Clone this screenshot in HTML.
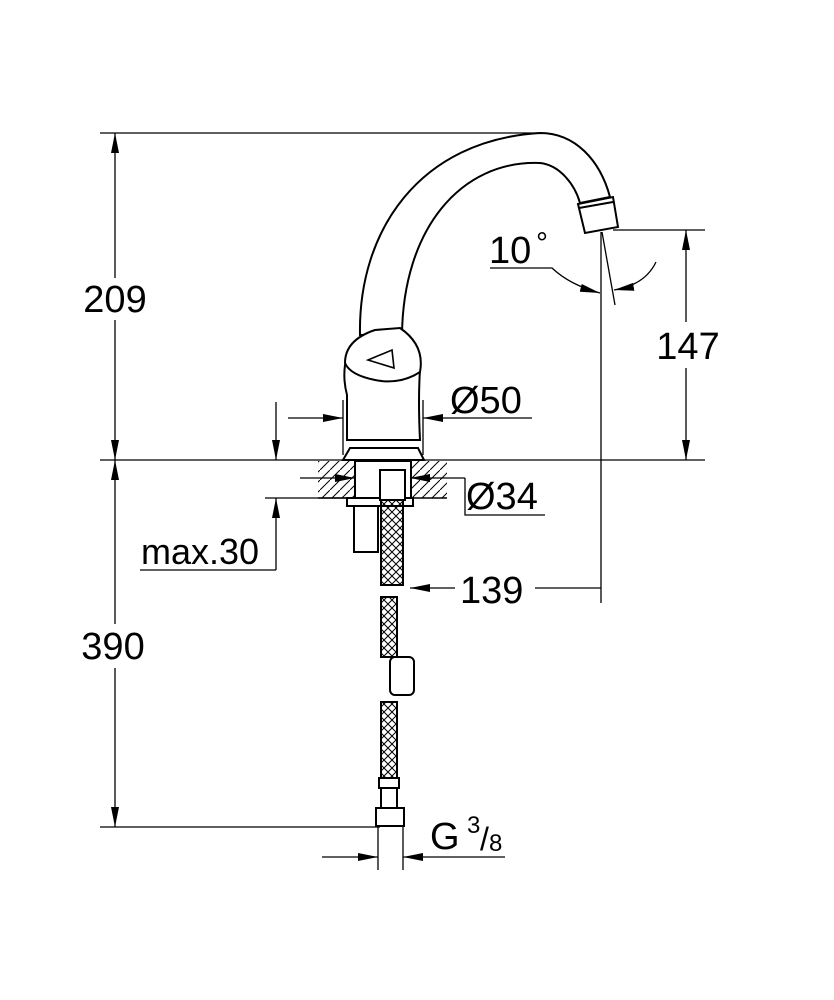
<!DOCTYPE html>
<html><head><meta charset="utf-8"><style>
html,body{margin:0;padding:0;background:#fff}
svg{display:block}
text{font-family:"Liberation Sans",sans-serif;fill:#000}
</style></head><body>
<svg width="834" height="1000" viewBox="0 0 834 1000" xmlns="http://www.w3.org/2000/svg">
<defs>
<marker id="a" viewBox="0 0 20 8" refX="20" refY="4" markerWidth="20" markerHeight="8" markerUnits="userSpaceOnUse" orient="auto"><path d="M0,0 L20,4 L0,8z" fill="#000"/></marker>
<pattern id="h" width="10" height="10" patternUnits="userSpaceOnUse"><path d="M0,10 L10,0" stroke="#000" stroke-width="1"/></pattern>
<pattern id="x" width="8" height="8" patternUnits="userSpaceOnUse"><path d="M0,0 L8,8 M8,0 L0,8" stroke="#000" stroke-width="1"/></pattern>
</defs>
<g stroke="#000" fill="none" stroke-width="1.3">
<line x1="100" y1="133" x2="540" y2="133"/>
<line x1="100" y1="460" x2="705" y2="460"/>
<line x1="100" y1="827" x2="380" y2="827"/>
<line x1="613" y1="230" x2="705" y2="230"/>
<line x1="601" y1="232" x2="601" y2="603"/>
<line x1="602" y1="232" x2="615" y2="305"/>
<line x1="115" y1="278" x2="115" y2="133" marker-end="url(#a)"/>
<line x1="115" y1="320" x2="115" y2="460" marker-end="url(#a)"/>
<line x1="115" y1="624" x2="115" y2="460" marker-end="url(#a)"/>
<line x1="115" y1="668" x2="115" y2="827" marker-end="url(#a)"/>
<line x1="686" y1="322" x2="686" y2="230" marker-end="url(#a)"/>
<line x1="686" y1="368" x2="686" y2="460" marker-end="url(#a)"/>
<path d="M490,268 L552,268 Q570,285 600,293" marker-end="url(#a)"/>
<path d="M656,262 Q645,285 614,290" marker-end="url(#a)"/>
<line x1="343" y1="400" x2="343" y2="455"/>
<line x1="423" y1="400" x2="423" y2="455"/>
<line x1="288" y1="418" x2="343" y2="418" marker-end="url(#a)"/>
<line x1="532" y1="418" x2="423" y2="418" marker-end="url(#a)"/>
<line x1="276" y1="402" x2="276" y2="460" marker-end="url(#a)"/>
<line x1="276" y1="570" x2="276" y2="498" marker-end="url(#a)"/>
<line x1="140" y1="570" x2="276" y2="570"/>
<line x1="265" y1="498" x2="360" y2="498"/>
<line x1="300" y1="478" x2="355" y2="478" marker-end="url(#a)"/>
<line x1="465" y1="478" x2="410" y2="478" marker-end="url(#a)"/>
<path d="M465,478 L465,515 L545,515"/>
<line x1="455" y1="588" x2="410" y2="588" marker-end="url(#a)"/>
<line x1="535" y1="588" x2="601" y2="588"/>
<line x1="378" y1="827" x2="378" y2="870"/>
<line x1="403" y1="827" x2="403" y2="870"/>
<line x1="322" y1="857" x2="378" y2="857" marker-end="url(#a)"/>
<line x1="505" y1="857" x2="403" y2="857" marker-end="url(#a)"/>
</g>
<rect x="318" y="461" width="129" height="37" fill="url(#h)"/>
<line x1="318" y1="498" x2="447" y2="498" stroke="#000" stroke-width="1.5"/>
<g stroke="#000" stroke-width="2" fill="#fff">
<path d="M360,335 C358,230 420,140 540,133 C575,133 600,160 610,197 L580,203 C575,185 560,165 540,163 C460,160 403,230 402,335 Z"/>
<path d="M578,204 L613,197 L618,227 L585,233 Z"/>
<line x1="579" y1="208" x2="613" y2="202"/>
<path d="M347,440 L347,395 Q343,380 345,365 L420,370 Q418,400 420,440 Z"/>
<path d="M345,363 Q345,340 375,330 L400,328 Q425,345 420,372 Q400,385 375,380 Q350,375 345,363 Z"/>
<path d="M368,360 L392,350 L394,368 Z" stroke-width="1.6"/>
<path d="M343,460 L350,448 L418,448 L424,460 Z"/>
<rect x="355" y="461" width="56" height="37"/>
<rect x="347" y="498" width="66" height="8"/>
<rect x="354" y="506" width="24" height="46"/>
<rect x="380" y="470" width="25" height="30"/>
<rect x="381" y="500" width="22" height="85" fill="url(#x)"/>
<rect x="381" y="597" width="16" height="60" fill="url(#x)"/>
<rect x="390" y="657" width="24" height="38" rx="5"/>
<rect x="381" y="702" width="16" height="76" fill="url(#x)"/>
<rect x="379" y="778" width="20" height="10"/>
<rect x="381" y="788" width="16" height="20"/>
<rect x="376" y="808" width="28" height="18"/>
</g>
<rect x="76" y="280" width="78" height="38" fill="#fff"/>
<text x="115" y="312" font-size="38" text-anchor="middle">209</text>
<rect x="76" y="626" width="78" height="40" fill="#fff"/>
<text x="113" y="659" font-size="38" text-anchor="middle">390</text>
<rect x="650" y="325" width="76" height="40" fill="#fff"/>
<text x="688" y="359" font-size="38" text-anchor="middle">147</text>
<text x="489" y="263" font-size="38">10</text>
<text x="536" y="253" font-size="30">°</text>
<text x="450" y="413" font-size="38">Ø50</text>
<text x="466" y="509" font-size="38">Ø34</text>
<text x="141" y="564" font-size="36">max.30</text>
<text x="460" y="603" font-size="38">139</text>
<text x="430" y="849" font-size="38">G</text>
<text x="467" y="833" font-size="24">3</text>
<text x="480" y="850" font-size="32">/</text>
<text x="489" y="851" font-size="24">8</text>
</svg>
</body></html>
